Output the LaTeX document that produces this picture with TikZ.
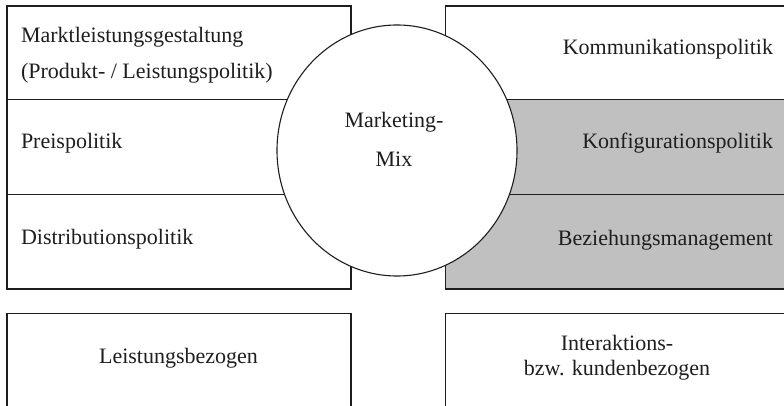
\documentclass[tikz,border=0pt]{standalone}
\usepackage{fontspec}
\setmainfont{Liberation Serif}
\usetikzlibrary{shapes.geometric}
\definecolor{cellgray}{HTML}{C0C0C0}
\definecolor{ink}{HTML}{1E1E1E}
\begin{document}
\begin{tikzpicture}[x=1pt,y=-1pt,
  cell/.style={draw=ink,line width=1.1pt,rectangle,anchor=north west,inner sep=0pt,outer sep=0pt},
  txt/.style={inner sep=0pt,outer sep=0pt,text=ink,font=\fontsize{22}{26}\selectfont},
  lt/.style={txt,anchor=base west},
  rt/.style={txt,anchor=base east},
  ct/.style={txt,anchor=base}]
\useasboundingbox (0,0) rectangle (784,406);
% left column
\node[cell,minimum width=344pt,minimum height=93.5pt] (l1) at (7,6) {};
\node[cell,minimum width=344pt,minimum height=95pt] (l2) at (7,99.5) {};
\node[cell,minimum width=344pt,minimum height=94.5pt] (l3) at (7,194.5) {};
% right column
\node[cell,minimum width=344.5pt,minimum height=93.5pt] (r1) at (445.5,6) {};
\node[cell,fill=cellgray,minimum width=344.5pt,minimum height=95pt] (r2) at (445.5,99.5) {};
\node[cell,fill=cellgray,minimum width=344.5pt,minimum height=94.5pt] (r3) at (445.5,194.5) {};
% bottom boxes
\node[cell,minimum width=344pt,minimum height=110pt] (b1) at (7,313.5) {};
\node[cell,minimum width=344.5pt,minimum height=110pt] (b2) at (445.5,313.5) {};
% circle
\node[draw=ink,line width=1.1pt,fill=white,ellipse,inner sep=0pt,minimum width=240pt,minimum height=251pt] (mix) at (397,150.5) {};
% texts
\node[lt] (t1) at (21,43) {Marktleistungsgestaltung};
\node[lt] (t2) at (21,79) {(Produkt- / Leistungspolitik)};
\node[lt] (t3) at (21,148.5) {Preispolitik};
\node[lt] (t4) at (21,244) {Distributionspolitik};
\node[rt] (t5) at (773,55) {Kommunikationspolitik};
\node[rt] (t6) at (773,149) {Konfigurationspolitik};
\node[rt] (t7) at (773,245) {Beziehungsmanagement};
\node[ct] (m1) at (394,128) {Marketing-};
\node[ct] (m2) at (394,167) {Mix};
\node[ct] (b1t) at (178.5,363) {Leistungsbezogen};
\node[ct] (b2t) at (617,350.5) {Interaktions-};
\node[ct] (b2u) at (617,375) {bzw. kundenbezogen};
\end{tikzpicture}
\end{document}
